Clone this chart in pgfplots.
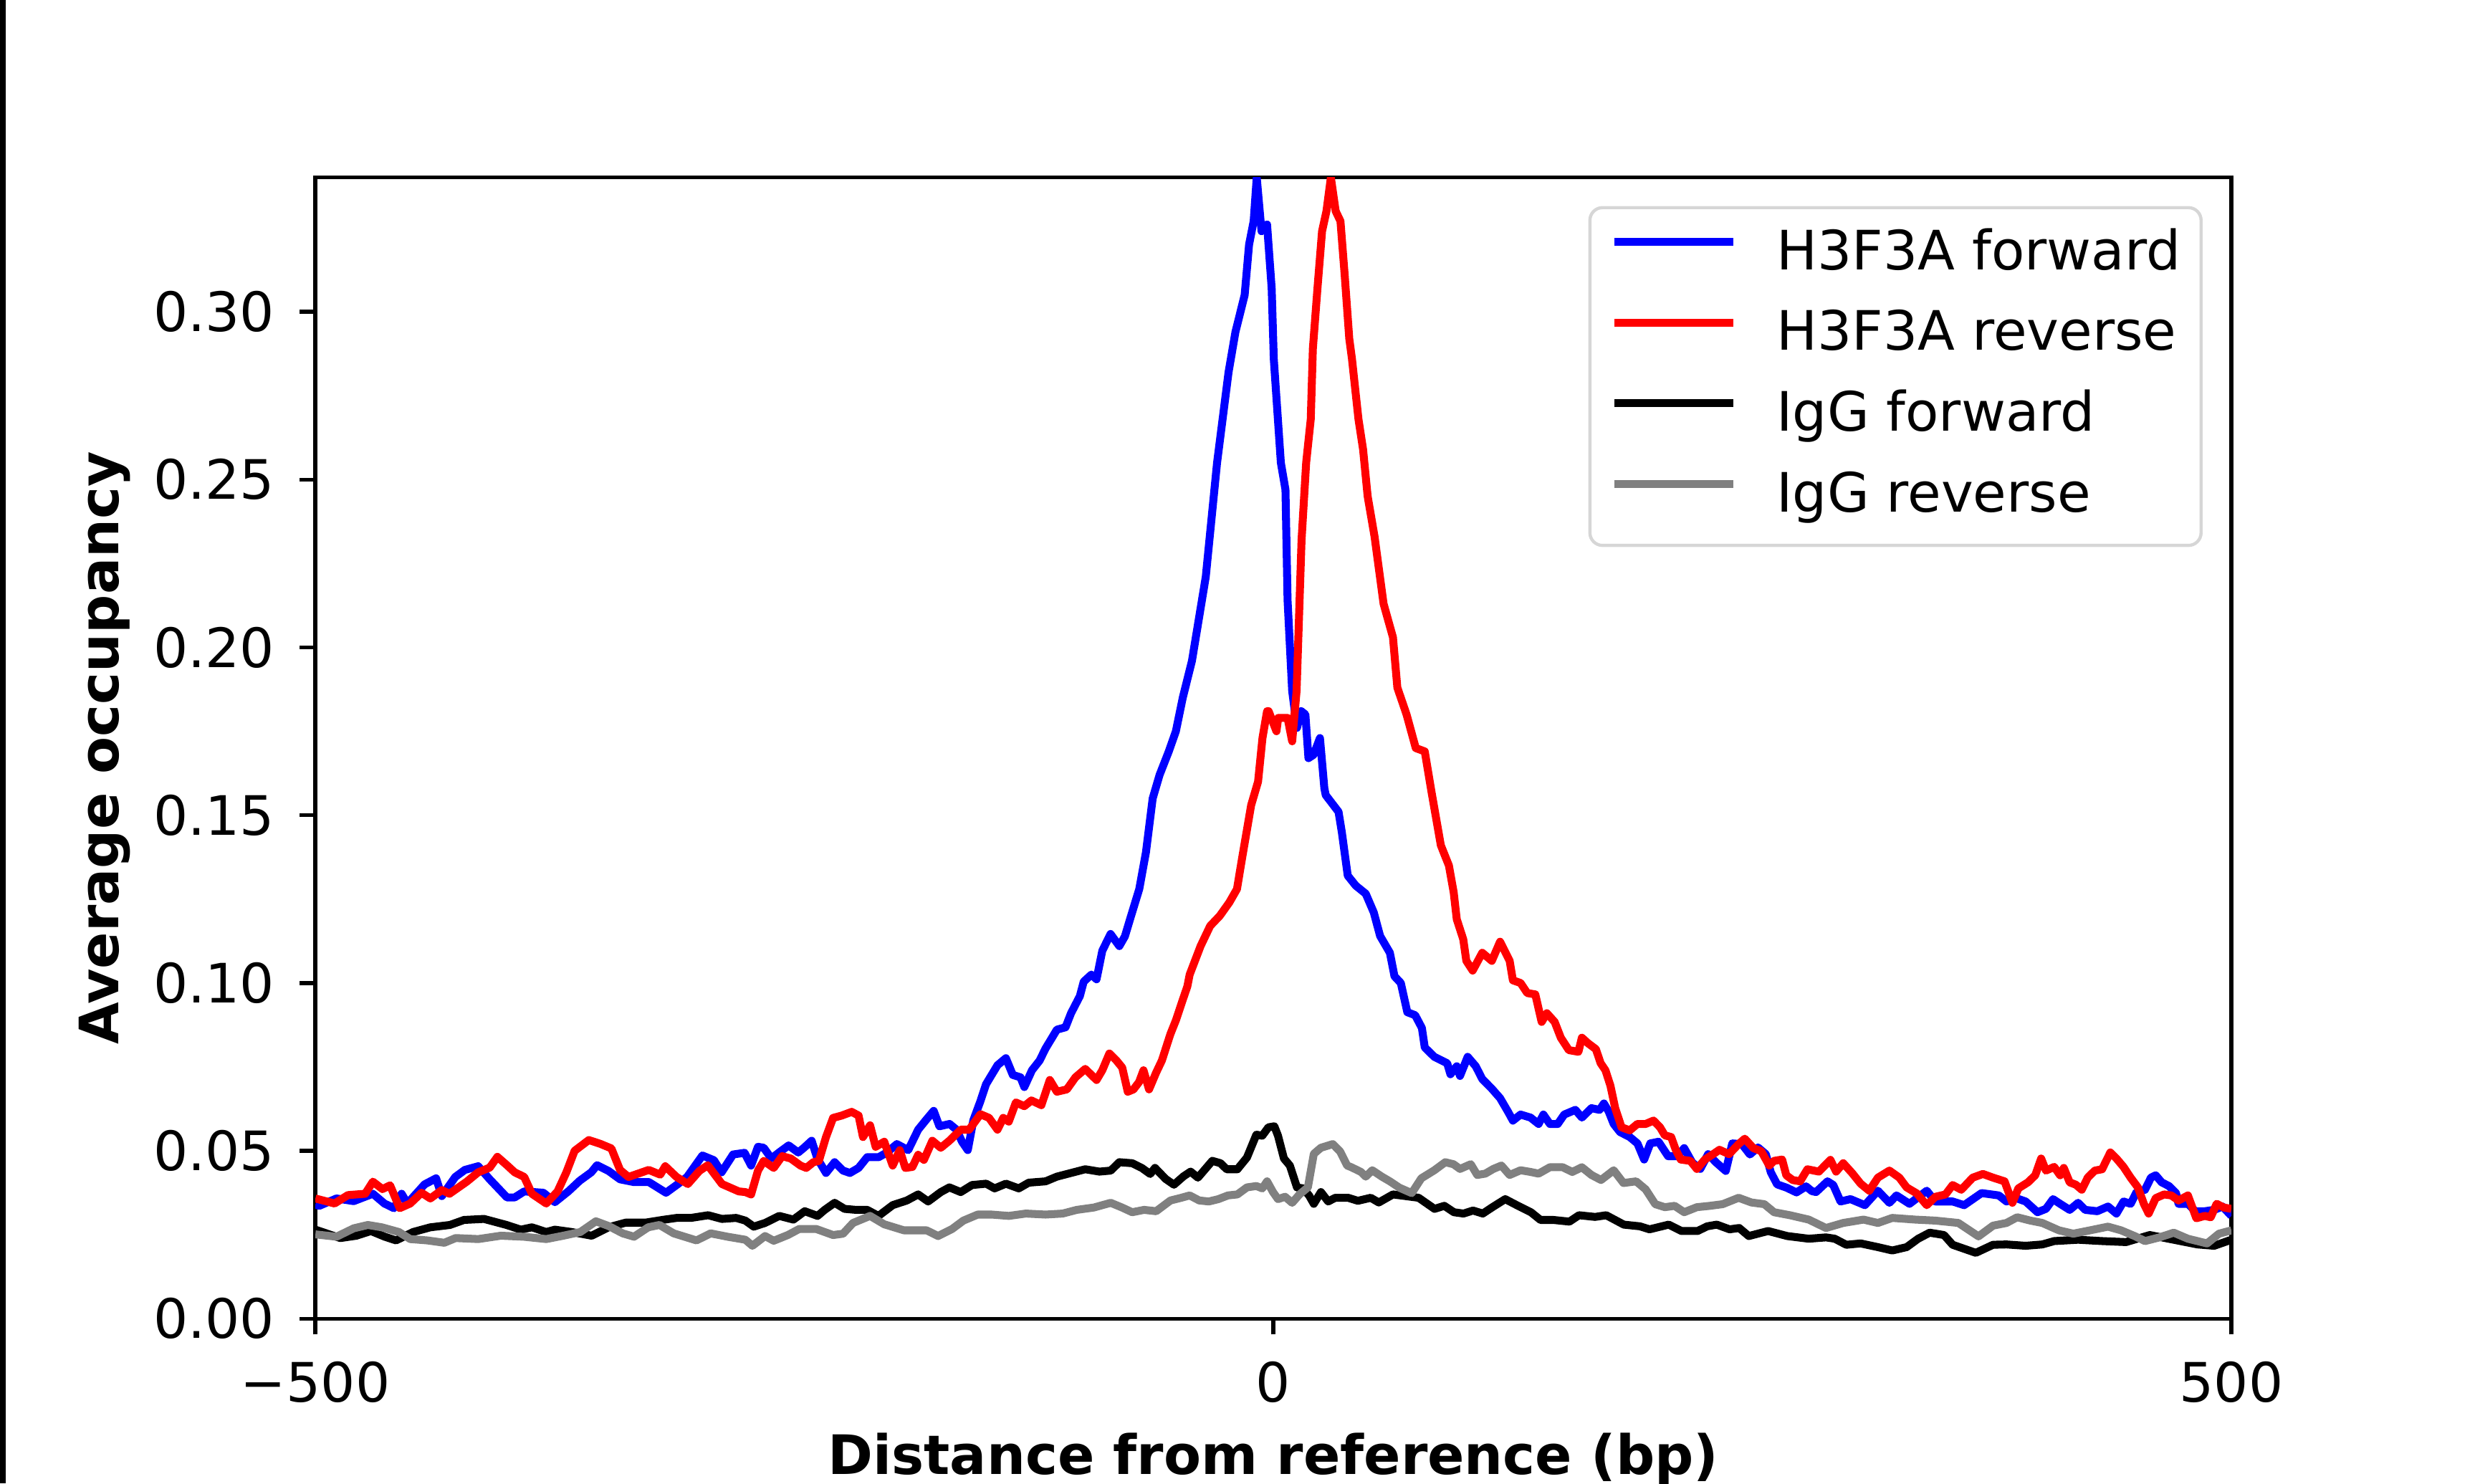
\documentclass[border=0pt]{standalone}
\usepackage{fontspec}
\setmainfont{DejaVu Sans}
\usepackage{pgfplots}
\pgfplotsset{compat=1.18}

\definecolor{fwdblue}{RGB}{0,0,255}
\definecolor{revred}{RGB}{255,0,0}
\definecolor{iggrev}{RGB}{128,128,128}
\definecolor{legendgray}{RGB}{214,214,214}

\newcommand{\txt}{\fontsize{12}{14.4}\selectfont}

\begin{document}
\begin{tikzpicture}
\useasboundingbox (0,0) rectangle (548.8pt,327.6pt);
\fill[black] (0,0) rectangle (1.27pt,327.6pt);
\begin{axis}[
  at={(69.65pt,36.4pt)}, anchor=south west,
  scale only axis, width=423.15pt, height=252pt,
  xmin=-500, xmax=500, ymin=0, ymax=0.34,
  xtick={-500,0,500}, xticklabels={−500,0,500},
  ytick={0,0.05,0.1,0.15,0.2,0.25,0.3},
  yticklabel style={/pgf/number format/fixed, /pgf/number format/fixed zerofill,
    /pgf/number format/precision=2, xshift=-2pt},
  /pgf/number format/assume math mode=true,
  tick align=outside, xtick pos=bottom, ytick pos=left,
  major tick length=3.5pt,
  every tick/.style={black, line width=0.85pt},
  axis line style={line width=0.85pt},
  tick label style={font=\txt},
  xticklabel style={yshift=-2.4pt},
  label style={font=\txt\bfseries},
  xlabel={Distance from reference (bp)},
  ylabel={Average occupancy},
  xlabel style={at={(axis description cs:0.5,-0.1235)}, anchor=center},
  ylabel style={at={(axis description cs:-0.110,0.5)}, anchor=center},
  legend cell align=left,
  legend style={at={(rel axis cs:0.985,0.975)}, anchor=north east,
    draw=legendgray, line width=0.7pt, rounded corners=2.8pt, fill=white,
    inner xsep=4.5pt, inner ysep=4.9pt, row sep=6.6pt, column sep=8.75pt,
    font=\txt, nodes={inner sep=0pt, text height=8.75pt, text depth=2.5pt}},
  legend image code/.code={\draw[#1] (0pt,3pt) -- (26.25pt,3pt);},
  every axis plot/.append style={line width=1.75pt, line join=round},
]
% H3F3A forward
\addplot[color=fwdblue] coordinates {
(-500,0.034) (-498,0.0336) (-489,0.0358) (-480,0.035) (-470,0.0372) (-464,0.0343)
(-459,0.0329) (-455,0.0372) (-452,0.0343) (-443,0.040) (-437,0.0418) (-434,0.0365)
(-427,0.0422) (-422,0.0443) (-415,0.0454) (-409,0.0415) (-400,0.0361) (-396,0.0361)
(-391,0.0379) (-381,0.0375) (-375,0.0347) (-368,0.0379) (-362,0.0411) (-356,0.0436)
(-353,0.0457) (-347,0.044) (-341,0.0415) (-334,0.0407) (-326,0.0407) (-317,0.0375)
(-311,0.040) (-306,0.0422) (-298,0.0486) (-292,0.0472) (-288,0.0436) (-282,0.0489)
(-276,0.0494) (-272.6,0.0456) (-269,0.0512) (-266,0.0509) (-262,0.0477) (-258,0.0495)
(-253,0.0516) (-248,0.0495) (-245,0.0509) (-241,0.053) (-238,0.0477) (-233.5,0.0434)
(-229,0.0466) (-224.6,0.0441) (-221,0.0434) (-216.5,0.0449) (-212,0.0481) (-206,0.0481)
(-201.7,0.0495) (-196.5,0.052) (-190.6,0.0502) (-185.4,0.0563) (-181,0.0594) (-177.3,0.0619)
(-174.3,0.0573) (-169,0.058) (-165.4,0.0563) (-162.5,0.0527) (-159.5,0.0502) (-156.6,0.0591)
(-152.9,0.0648) (-150,0.0698) (-144,0.0755) (-139.6,0.0776) (-136,0.0726) (-132,0.0719)
(-130,0.069) (-126,0.074) (-122,0.0769) (-119,0.0804) (-113,0.0861) (-108.5,0.0868)
(-105.6,0.091) (-101,0.0961) (-99,0.1004) (-95,0.1025) (-92.3,0.1011) (-89.3,0.1096)
(-85,0.1146) (-80.4,0.111) (-77.5,0.1139) (-74.5,0.1196) (-70,0.128) (-66.5,0.139)
(-63,0.155) (-59.4,0.162) (-54.6,0.169) (-50.9,0.175) (-47.3,0.185) (-42.5,0.196)
(-35.3,0.221) (-29.4,0.255) (-23.4,0.282) (-19.8,0.294) (-15,0.305) (-12.7,0.320)
(-10.3,0.327) (-8.7,0.340) (-6.2,0.324) (-3.3,0.326) (-0.9,0.307) (0.2,0.286)
(3.9,0.255) (6.3,0.247) (7.4,0.214) (9.8,0.187) (12.3,0.176) (14.5,0.181)
(16.7,0.180) (18.3,0.167) (21,0.168) (24.3,0.173) (26.6,0.158) (27.3,0.156)
(34,0.151) (35.7,0.145) (38.8,0.132) (43,0.129) (48.2,0.1266) (52.4,0.121)
(55.7,0.114) (60.8,0.109) (63.2,0.102) (66.5,0.100) (69.9,0.0913) (74,0.0904)
(77.5,0.0866) (79,0.0808) (84,0.078) (90.7,0.0761) (92.4,0.0728) (95.7,0.0752)
(97.4,0.0723) (101.4,0.078) (105.6,0.0752) (109,0.0714) (114,0.0685) (118.3,0.0657)
(122.4,0.0617) (125,0.059) (129,0.0608) (134.2,0.0599) (138.4,0.058) (140.9,0.0608)
(144.3,0.058) (148.4,0.058) (151.8,0.0608) (157.6,0.0622) (161,0.0599) (166,0.0627)
(170.2,0.0622) (172.5,0.0641) (175,0.0617) (177.6,0.058) (180.9,0.0556) (186,0.0541)
(190,0.0522) (193.5,0.0474) (196.7,0.0522) (201,0.0527) (206,0.0484) (211,0.0484)
(214.4,0.0508) (218.6,0.0465) (222.8,0.0446) (226.9,0.049) (231.1,0.0465) (236.1,0.044)
(239.5,0.0522) (244.5,0.052) (248.7,0.0489) (252.9,0.051) (257,0.049) (259.6,0.0436)
(262.9,0.040) (267.9,0.039) (273,0.0376) (278,0.0394) (281,0.038) (283.2,0.0377)
(289.2,0.0409) (292.2,0.0398) (296,0.0349) (301.2,0.0356) (308.7,0.0338) (315.5,0.0381)
(321.5,0.0345) (325.2,0.0367) (332,0.0342) (341,0.0381) (345.5,0.0349) (354.5,0.0349)
(360.5,0.0338) (369.6,0.0374) (378.6,0.0367) (382.6,0.0349) (387.6,0.0359) (392.6,0.0349)
(398.8,0.0317) (403.2,0.0327) (406.9,0.0356) (410.6,0.0342) (415.6,0.0324) (420,0.0345)
(423.7,0.0324) (430,0.032) (435.6,0.0334) (440,0.0313) (443.7,0.0349) (447.4,0.0342)
(450.5,0.0377) (454.9,0.0384) (458,0.042) (460.5,0.0427) (463.6,0.0406) (467.4,0.0395)
(471.1,0.0374) (472.4,0.0342) (477.3,0.0342) (481.1,0.032) (486.1,0.032) (491,0.0324)
(495.4,0.0334) (500,0.0306)
};
\addlegendentry{H3F3A forward}
% H3F3A reverse
\addplot[color=revred] coordinates {
(-500,0.0358) (-490,0.0343) (-483,0.0368) (-474,0.0372) (-470,0.0408) (-465,0.0386)
(-461,0.0397) (-456,0.0329) (-450.5,0.0343) (-444.6,0.0375) (-440,0.0358) (-434,0.0383)
(-430,0.0372) (-421,0.0408) (-415,0.0436) (-409,0.045) (-405,0.0482) (-400,0.0457)
(-396,0.0436) (-391,0.0422) (-387,0.0372) (-379.5,0.0343) (-373.6,0.0379) (-369,0.0436)
(-364.7,0.050) (-357.3,0.0532) (-351.4,0.0521) (-345.5,0.0507) (-341,0.0443) (-336.6,0.0422)
(-326,0.0443) (-320,0.0429) (-317.4,0.0454) (-311.5,0.0422) (-305.6,0.0401) (-299.6,0.044)
(-295.2,0.0457) (-287.8,0.0401) (-279,0.0379) (-275.6,0.0377) (-272.6,0.037) (-269,0.0441)
(-266,0.047) (-260.8,0.0449) (-256.4,0.0484) (-251.9,0.0477) (-246.8,0.0456) (-243.8,0.0449)
(-240.1,0.0466) (-237.2,0.047) (-233.5,0.0541) (-229.8,0.0598) (-225.3,0.0605) (-220.1,0.0616)
(-216.5,0.0605) (-214.2,0.0541) (-210.5,0.0576) (-207.6,0.0512) (-203.1,0.0527) (-198.7,0.0456)
(-195,0.0502) (-192.1,0.0449) (-188.4,0.0452) (-185.4,0.0488) (-182.4,0.0473) (-178,0.053)
(-173.6,0.0509) (-169.1,0.053) (-163.2,0.0563) (-158.8,0.0563) (-152.9,0.0609) (-148.4,0.0598)
(-144,0.0563) (-141,0.0598) (-138.1,0.0587) (-134.4,0.0644) (-130,0.0633) (-126.3,0.065)
(-121.1,0.0636) (-116.7,0.0711) (-113,0.0676) (-107.8,0.0683) (-103.3,0.0719) (-98.2,0.0744)
(-92.3,0.0711) (-89.3,0.074) (-85.6,0.079) (-81.9,0.0769) (-78.9,0.0748) (-76,0.0676)
(-73,0.0683) (-70.1,0.0705) (-67.8,0.074) (-64.9,0.0683) (-61.2,0.0733) (-58.2,0.0769)
(-53.8,0.0847) (-50.8,0.089) (-47.9,0.094) (-44.9,0.099) (-43.7,0.1025) (-38,0.111)
(-33,0.117) (-28,0.120) (-23,0.124) (-19,0.128) (-16.4,0.137) (-11.6,0.153)
(-8,0.160) (-5.7,0.173) (-3.3,0.181) (-2.5,0.181) (1.6,0.175) (2.5,0.179)
(7.4,0.179) (9.8,0.172) (12.1,0.187) (14.7,0.232) (17.1,0.255) (19.5,0.268)
(20.6,0.289) (23,0.307) (25.4,0.324) (27.7,0.330) (30,0.340) (32.5,0.330)
(35,0.327) (37.2,0.311) (39.6,0.292) (41,0.286) (44.4,0.268) (46.8,0.259)
(49.2,0.245) (52.8,0.233) (57.5,0.213) (62.4,0.203) (64.7,0.188) (69.5,0.180)
(74.3,0.170) (79,0.169) (82.5,0.157) (87.4,0.141) (91.6,0.135) (94.1,0.127)
(95.7,0.119) (99.1,0.113) (100.7,0.1066) (104,0.1037) (109,0.109) (114,0.1066)
(118.3,0.1123) (123.3,0.1066) (125,0.1008) (129,0.100) (132.5,0.097) (136.7,0.0966)
(140,0.0884) (142.7,0.091) (146.8,0.0884) (150,0.0837) (154.2,0.080) (159.2,0.0795)
(161,0.0837) (164.3,0.082) (168.3,0.0803) (170.8,0.0761) (173.3,0.074) (175.9,0.0694)
(178.4,0.0627) (181.7,0.057) (186,0.0561) (190,0.058) (194.3,0.058) (198.4,0.059)
(201.8,0.057) (204.3,0.0546) (207.6,0.0541) (210,0.0503) (212.6,0.0474) (217.6,0.047)
(221,0.0446) (225.2,0.0474) (229.5,0.049) (232.8,0.0503) (237.8,0.049) (242.8,0.052)
(246,0.0536) (250.5,0.0508) (254.6,0.0499) (258.8,0.0456) (261.3,0.047) (265.5,0.0474)
(267.7,0.0427) (271,0.0413) (274.9,0.0409) (278.7,0.0445) (284.7,0.0438) (290.7,0.0473)
(293.7,0.0438) (297.4,0.0463) (302,0.0434) (306.5,0.0402) (311,0.0381) (315.5,0.042)
(321.5,0.0441) (326.7,0.042) (330.5,0.0391) (335.8,0.0373) (341,0.0338) (345.5,0.0363)
(350.8,0.037) (354.5,0.0398) (359,0.0384) (365,0.042) (370.3,0.0431) (375.6,0.042)
(381.6,0.0409) (385.7,0.0345) (388.8,0.0388) (393.8,0.0406) (397.6,0.0427) (400.7,0.0477)
(403.2,0.0441) (407.5,0.0452) (410.6,0.0427) (412.5,0.0449) (415.6,0.0406) (418.8,0.0399)
(421.9,0.0384) (425,0.042) (428.7,0.0441) (432.5,0.0445) (436.8,0.0495) (440,0.0477)
(443.7,0.0452) (447.4,0.042) (451.2,0.0391) (454.3,0.0342) (456.8,0.0313) (460.5,0.0359)
(464.9,0.037) (468.6,0.0367) (472.4,0.0352) (477.3,0.0367) (481.7,0.0299) (486.1,0.0306)
(489.2,0.0302) (492.3,0.0342) (496,0.0331) (500,0.0327)
};
\addlegendentry{H3F3A reverse}
% IgG forward
\addplot[color=black] coordinates {
(-500,0.0265) (-487,0.024) (-478.6,0.0247) (-471,0.0261) (-463.8,0.0244) (-457.9,0.0233)
(-449,0.0258) (-440,0.0272) (-429.8,0.0279) (-422.4,0.0294) (-412,0.0297) (-400.2,0.0279)
(-392.8,0.0265) (-387,0.0272) (-379.5,0.0258) (-375,0.0265) (-366.2,0.0258) (-355.8,0.0247)
(-347,0.0272) (-338,0.0286) (-327.7,0.0286) (-318.9,0.0294) (-311.5,0.030) (-304,0.030)
(-295,0.0308) (-287.8,0.0297) (-280.4,0.030) (-275.6,0.0292) (-271.2,0.0274) (-265.3,0.0285)
(-257.9,0.0306) (-250.5,0.0295) (-244.6,0.032) (-237.9,0.0306) (-234.2,0.0324) (-229,0.0345)
(-223.8,0.0327) (-217.9,0.0324) (-212,0.0324) (-206.1,0.0306) (-198.7,0.0338) (-191.3,0.0352)
(-185.4,0.037) (-180.2,0.0349) (-173.6,0.0377) (-169.1,0.0391) (-163.2,0.0377) (-157.3,0.0398)
(-149.9,0.0402) (-145.5,0.0388) (-139.6,0.0402) (-132.9,0.0388) (-127.7,0.0405) (-118.9,0.0409)
(-113,0.0423) (-105.6,0.0434) (-98.2,0.0445) (-90.8,0.0438) (-84.9,0.0441) (-80.4,0.0466)
(-73.7,0.0463) (-68.7,0.0449) (-64.3,0.0431) (-61.8,0.0449) (-56.2,0.0416) (-51.9,0.0399)
(-46.9,0.0424) (-43.2,0.0438) (-39.4,0.042) (-31.9,0.047) (-27.6,0.0463) (-24.4,0.0445)
(-18.8,0.0445) (-13.8,0.048) (-8.9,0.0548) (-5.8,0.0545) (-2.6,0.057) (0.5,0.0573)
(2.4,0.0545) (5.5,0.0477) (8.6,0.0456) (12.3,0.0391) (15.5,0.0388) (18.6,0.0367)
(21.1,0.0342) (24.8,0.0377) (28.6,0.0349) (32.3,0.036) (39,0.036) (44.1,0.0351)
(50.8,0.036) (55,0.0346) (62.4,0.037) (69.1,0.0365) (75.8,0.036) (84.1,0.0327)
(89.2,0.0336) (94.2,0.0317) (99.2,0.0313) (104.2,0.0322) (109.3,0.0313) (114.3,0.0332)
(121,0.0356) (127.7,0.0336) (134.4,0.0317) (139.4,0.0294) (146.1,0.0294) (154.5,0.0289)
(159.5,0.0308) (167.9,0.0303) (173.7,0.0308) (182.9,0.028) (191.3,0.0275) (196.3,0.0266)
(206.3,0.028) (213,0.0261) (221.4,0.0261) (226.4,0.0275) (231.4,0.028) (238.1,0.0266)
(243.1,0.027) (248.1,0.0246) (258.2,0.0261) (268.2,0.0246) (279.4,0.0238) (288.4,0.0242)
(293,0.0238) (299,0.022) (306.5,0.0224) (315.5,0.0213) (323,0.0203) (330.5,0.0213)
(336.5,0.0238) (342.5,0.0256) (350,0.0249) (354.5,0.022) (366.6,0.0196) (375.6,0.022)
(382.6,0.0221) (392.6,0.0217) (401.3,0.0221) (407.5,0.0231) (420,0.0235) (432.5,0.0231)
(445,0.0228) (457.4,0.0249) (469.9,0.0235) (482.3,0.0221) (491,0.0217) (500,0.0235)
};
\addlegendentry{IgG forward}
% IgG reverse
\addplot[color=iggrev] coordinates {
(-500,0.0251) (-489,0.0244) (-480,0.0269) (-472.6,0.0279) (-465.3,0.0272) (-456.4,0.0258)
(-450.5,0.0237) (-441.6,0.0233) (-432.7,0.0226) (-426.8,0.024) (-415,0.0237) (-403.2,0.0247)
(-391.3,0.0244) (-379.5,0.0237) (-370.6,0.0247) (-361.7,0.0258) (-353.6,0.029) (-347,0.0276)
(-339.6,0.0254) (-333.7,0.0244) (-326.3,0.0272) (-320.4,0.0279) (-313,0.0254) (-301.1,0.0233)
(-293.7,0.0254) (-284.9,0.0244) (-275.6,0.0235) (-271.9,0.0217) (-265.3,0.0246) (-260.8,0.0232)
(-253.4,0.0249) (-247.5,0.0267) (-238.6,0.0267) (-229.8,0.0249) (-224.6,0.0253) (-219.4,0.0285)
(-210.5,0.0306) (-203.1,0.0281) (-192.8,0.0263) (-181,0.0263) (-175,0.0246) (-167.7,0.0267)
(-161.8,0.0292) (-154.3,0.031) (-147,0.031) (-138.1,0.0306) (-129.2,0.0313) (-118.9,0.031)
(-110,0.0313) (-102.6,0.0324) (-93.7,0.0331) (-84.9,0.0345) (-79,0.0331) (-73.7,0.0317)
(-67.5,0.0324) (-61.2,0.032) (-53.7,0.0352) (-48.1,0.036) (-43.7,0.0367) (-38.7,0.0352)
(-33.7,0.0349) (-28.7,0.0356) (-23.7,0.0367) (-18.8,0.037) (-13.8,0.0391) (-8.9,0.0395)
(-5.8,0.0388) (-3.3,0.0409) (-0.2,0.0377) (2.4,0.0356) (6.1,0.0363) (9.8,0.0345)
(13.6,0.037) (18,0.0391) (21.1,0.0491) (24.8,0.0509) (31,0.052) (34.8,0.0498)
(38.5,0.0456) (40.7,0.0451) (45.7,0.0437) (48.2,0.0423) (51.6,0.0442) (56.6,0.0423)
(60.8,0.0409) (65.8,0.039) (72.2,0.0374) (77.2,0.0418) (84,0.0442) (89.7,0.0466)
(94,0.046) (97.4,0.0446) (103,0.046) (106.4,0.0428) (110.6,0.0432) (114.8,0.0446)
(119,0.0456) (123.3,0.0428) (129,0.0442) (134.2,0.0437) (138.4,0.0432) (144.3,0.0451)
(151,0.0451) (156,0.0437) (161,0.0451) (166,0.0428) (171,0.0413) (177.6,0.0442)
(182.7,0.0404) (189.3,0.0409) (194.3,0.0385) (199.3,0.0341) (204.3,0.0332) (209.4,0.0336)
(214.4,0.0317) (221,0.0332) (227.8,0.0336) (234.5,0.0341) (242.8,0.036) (249.5,0.0346)
(256.2,0.0341) (261.3,0.0317) (269.6,0.0308) (279.4,0.0295) (288.4,0.027) (297.4,0.0285)
(308,0.0295) (315.5,0.0285) (323,0.03) (335,0.0295) (345.5,0.0292) (357.5,0.0285)
(368,0.0245) (375.6,0.0277) (382.6,0.0285) (388.2,0.0302) (395.1,0.0292) (401.3,0.0285)
(410,0.0263) (417.5,0.0253) (426.2,0.0263) (435.6,0.0274) (442.4,0.0263) (449.9,0.0245)
(454.9,0.0231) (462.4,0.0242) (469.9,0.0256) (477.3,0.0238) (487.3,0.0224) (493.5,0.0253)
(500,0.0263)
};
\addlegendentry{IgG reverse}
\end{axis}
\end{tikzpicture}
\end{document}
